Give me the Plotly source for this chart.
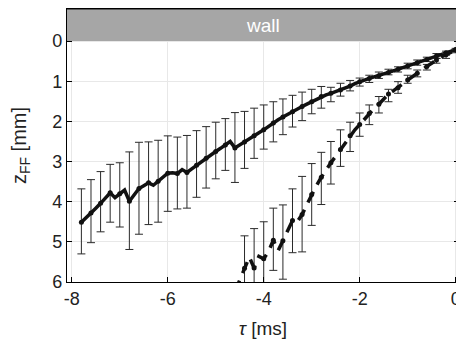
import numpy as np
import plotly.graph_objects as go

# time axis (ms), line sampled every 0.1 ms; error bars every 0.2 ms
tau_solid = [round(-7.8 + 0.1 * i, 1) for i in range(79)]
z_solid = [4.51, 4.40, 4.28, 4.16, 4.04, 3.91, 3.78, 3.90, 3.80, 3.71,
           3.99, 3.82, 3.67, 3.60, 3.53, 3.59, 3.49, 3.39, 3.29, 3.28,
           3.30, 3.20, 3.27, 3.18, 3.09, 3.01, 2.92, 2.84, 2.75, 2.67,
           2.59, 2.50, 2.66, 2.58, 2.51, 2.43, 2.36, 2.28, 2.21, 2.12,
           2.04, 1.96, 1.89, 1.82, 1.76, 1.69, 1.63, 1.57, 1.51, 1.44,
           1.38, 1.34, 1.30, 1.26, 1.22, 1.17, 1.12, 1.06, 1.01, 0.97,
           0.93, 0.89, 0.86, 0.82, 0.78, 0.74, 0.70, 0.66, 0.62, 0.58,
           0.54, 0.50, 0.46, 0.42, 0.37, 0.33, 0.29, 0.25, 0.21]
# error bar extents (top = smaller z, bottom = larger z) at tau_solid[::2]
solid_top = [3.68, 3.45, 3.25, 3.07, 3.03, 2.76, 2.52, 2.51, 2.47, 2.36,
             2.39, 2.35, 2.23, 2.13, 2.02, 1.93, 1.78, 1.75, 1.67, 1.59,
             1.51, 1.44, 1.35, 1.27, 1.20, 1.13, 1.15, 1.05, 0.98, 0.92,
             0.85, 0.77, 0.70, 0.64, 0.55, 0.47, 0.40, 0.31, 0.25, 0.18]
solid_bot = [5.30, 5.02, 4.75, 4.51, 4.63, 5.19, 4.81, 4.57, 4.51, 4.24,
             4.18, 4.16, 3.89, 3.66, 3.43, 3.22, 3.52, 3.17, 2.92, 2.69,
             2.51, 2.33, 2.14, 1.98, 1.81, 1.67, 1.51, 1.37, 1.24, 1.12,
             1.03, 0.93, 0.84, 0.77, 0.69, 0.60, 0.51, 0.43, 0.35, 0.26]

tau_dash = [round(-4.6 + 0.1 * i, 1) for i in range(47)]
z_dash = [6.24, 5.97, 5.66, 5.38, 5.65, 5.36, 5.42, 5.24, 4.96, 5.22,
          4.97, 4.74, 4.47, 4.50, 4.32, 4.07, 3.82, 3.60, 3.39, 3.19,
          3.03, 2.87, 2.70, 2.53, 2.36, 2.21, 2.08, 1.94, 1.80, 1.68,
          1.57, 1.44, 1.32, 1.24, 1.16, 1.06, 0.97, 0.88, 0.80, 0.71,
          0.63, 0.55, 0.47, 0.39, 0.34, 0.28, 0.22]
dash_top = [6.05, 4.85, 4.67, 4.50, 4.16, 4.08, 3.68, 3.37, 3.05, 2.77,
            2.50, 2.21, 2.02, 1.79, 1.59, 1.38, 1.20, 1.01, 0.85, 0.72,
            0.58, 0.43, 0.31, 0.21]
dash_bot = [6.45, 6.50, 6.60, 6.30, 5.71, 5.93, 5.27, 5.25, 4.59, 4.07,
            3.56, 3.12, 2.75, 2.37, 2.08, 1.79, 1.51, 1.30, 1.05, 0.89,
            0.72, 0.55, 0.43, 0.29]

x_ticks = [-8, -6, -4, -2, 0]
x_ticklabels = ["-8", "-6", "-4", "-2", "0"]
y_ticks = [0, 1, 2, 3, 4, 5, 6]
y_ticklabels = ["0", "1", "2", "3", "4", "5", "6"]
wall_label = "wall"

FONT = "Liberation Sans, Arial, Helvetica, sans-serif"
fig = go.Figure()


def add_series(t, z, top, bot, dash):
    tc = t[::2]
    zc = z[::2]
    plus = [b - c for b, c in zip(bot, zc)]
    minus = [c - a for a, c in zip(top, zc)]
    fig.add_trace(go.Scatter(
        x=tc, y=zc, mode="markers",
        marker=dict(size=5, color="#111111"),
        error_y=dict(type="data", symmetric=False, array=plus, arrayminus=minus,
                     color="#2a2a2a", thickness=1, width=4),
        showlegend=False, hoverinfo="skip"))
    fig.add_trace(go.Scatter(
        x=t, y=z, mode="lines",
        line=dict(color="#111111", width=3.5, dash=dash),
        showlegend=False))


add_series(tau_solid, z_solid, solid_top, solid_bot, "solid")
add_series(tau_dash, z_dash, dash_top, dash_bot, "12px,8px")

fig.add_shape(type="rect", xref="paper", yref="y", x0=0, x1=1, y0=-0.8, y1=0,
              fillcolor="#a6a6a6", line=dict(width=0), layer="above")
fig.add_shape(type="line", xref="paper", yref="y", x0=0, x1=1, y0=-0.8, y1=-0.8,
              line=dict(color="#404040", width=1.3), layer="above")
fig.add_annotation(x=0.5, xref="paper", y=-0.4, yref="y", text=wall_label,
                   showarrow=False, font=dict(family=FONT, size=19, color="white"))

axis_common = dict(showline=True, linecolor="black", linewidth=1.3, mirror="ticks",
                   ticks="inside", ticklen=5, tickcolor="black", automargin=False,
                   showgrid=True, gridcolor="#e8e8e8", gridwidth=1, zeroline=False,
                   tickfont=dict(family=FONT, size=18, color="#222222"))

fig.update_xaxes(range=[-8.1, 0.07], tickvals=x_ticks, ticktext=x_ticklabels,
                 title=dict(text="<i>τ</i> [ms]", font=dict(family=FONT, size=19, color="#222222"),
                            standoff=13),
                 **axis_common)
fig.update_yaxes(range=[6, -0.8], tickvals=y_ticks, ticktext=y_ticklabels,
                 title=dict(text="z<sub>FF</sub> [mm]", font=dict(family=FONT, size=20, color="#222222"),
                            standoff=20),
                 **axis_common)

# page body has an 8px default margin, so the figure is 8px smaller and shifted
fig.update_layout(width=456, height=337, margin=dict(l=59, r=5, t=1, b=63),
                  paper_bgcolor="white", plot_bgcolor="white")

fig.write_html("out.html")
